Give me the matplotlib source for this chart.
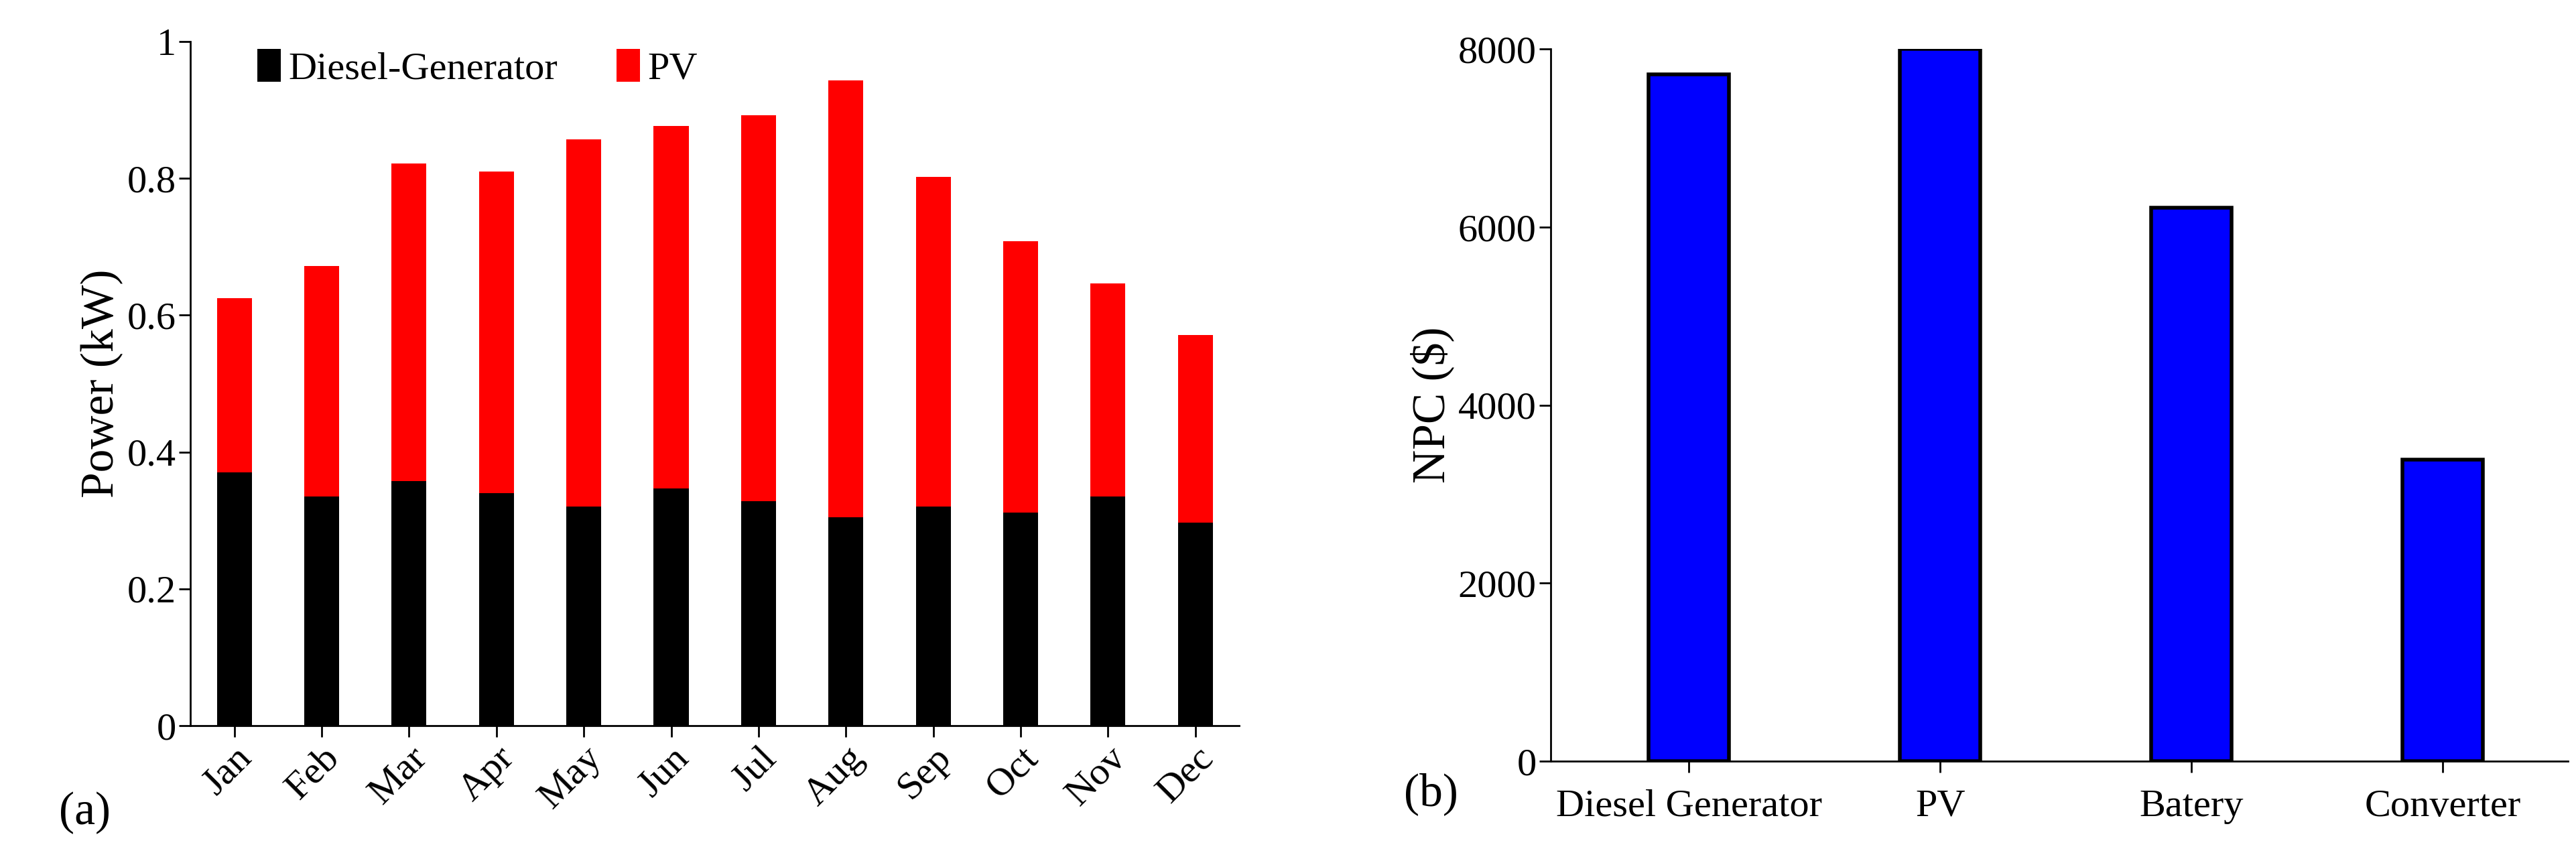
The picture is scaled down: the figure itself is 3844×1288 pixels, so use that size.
import matplotlib.pyplot as plt

plt.rcParams['font.family'] = ['Liberation Serif', 'DejaVu Serif']

months = ['Jan', 'Feb', 'Mar', 'Apr', 'May', 'Jun', 'Jul', 'Aug', 'Sep', 'Oct', 'Nov', 'Dec']
diesel = [0.370, 0.335, 0.358, 0.340, 0.320, 0.347, 0.328, 0.305, 0.320, 0.312, 0.335, 0.297]
pv = [0.255, 0.337, 0.464, 0.470, 0.537, 0.529, 0.564, 0.638, 0.482, 0.396, 0.311, 0.274]

components = ['Diesel Generator', 'PV', 'Batery', 'Converter']
npc = [7720, 8000, 6220, 3390]

fig = plt.figure(figsize=(38.44, 12.88), dpi=100)

# (a) stacked monthly power
ax1 = fig.add_axes([0.074, 0.159, 0.407, 0.793])
x = range(len(months))
ax1.bar(x, diesel, width=0.4, color='black', label='Diesel-Generator')
ax1.bar(x, pv, width=0.4, bottom=diesel, color='#ff0000', label='PV')
ax1.set_xlim(-0.5, 11.5)
ax1.set_ylim(0, 1)
ax1.set_yticks([0, 0.2, 0.4, 0.6, 0.8, 1])
ax1.set_yticklabels(['0', '0.2', '0.4', '0.6', '0.8', '1'])
ax1.set_xticks(list(x))
ax1.set_xticklabels(months, rotation=45, ha='right', rotation_mode='anchor')
ax1.set_ylabel('Power (kW)', fontsize=50)
ax1.tick_params(labelsize=42, length=12, width=2)
ax1.legend(loc='upper left', bbox_to_anchor=(0.03, 1.04), ncol=2, frameon=False,
           fontsize=42, handlelength=0.6, handleheight=0.9, handletextpad=0.2, columnspacing=1.5)
for s in ['top', 'right']:
    ax1.spines[s].set_visible(False)
for s in ['left', 'bottom']:
    ax1.spines[s].set_linewidth(2)

# (b) NPC per component
ax2 = fig.add_axes([0.602, 0.118, 0.395, 0.825])
ax2.bar(range(len(components)), npc, width=0.32, color='#0000ff', edgecolor='black', linewidth=4)
ax2.set_xlim(-0.55, 3.5)
ax2.set_ylim(0, 8000)
ax2.set_yticks([0, 2000, 4000, 6000, 8000])
ax2.set_xticks(range(len(components)))
ax2.set_xticklabels(components)
ax2.set_ylabel('NPC ($)', fontsize=50)
ax2.tick_params(labelsize=42, length=12, width=2)
ax2.tick_params(axis='x', pad=18)
for s in ['top', 'right']:
    ax2.spines[s].set_visible(False)
for s in ['left', 'bottom']:
    ax2.spines[s].set_linewidth(2)

fig.text(0.023, 0.045, '(a)', fontsize=50)
fig.text(0.545, 0.067, '(b)', fontsize=50)

fig.savefig('out.png', dpi=100)
